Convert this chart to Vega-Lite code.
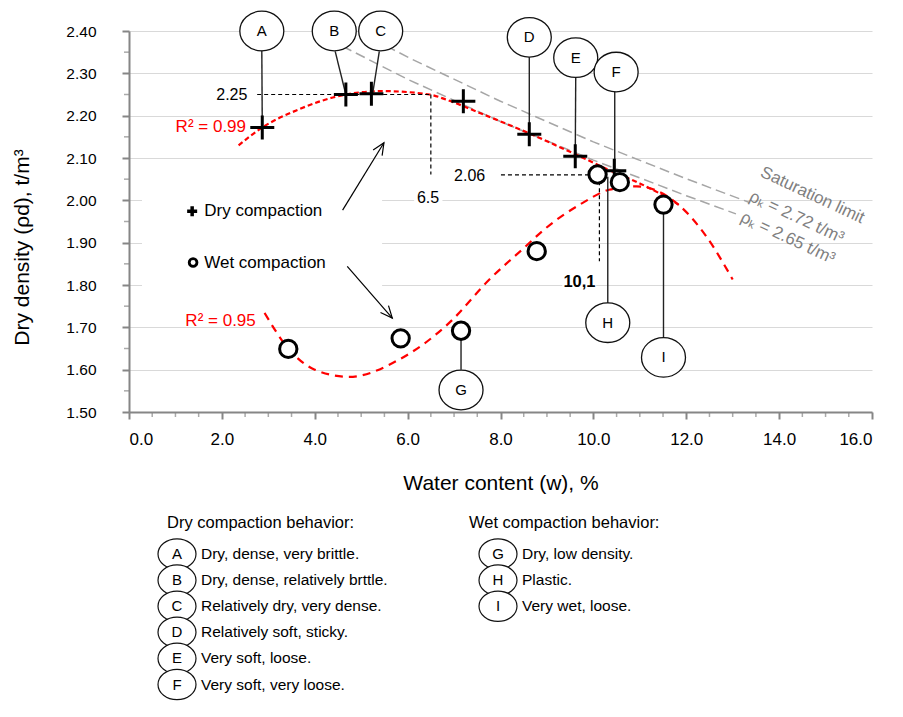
{
  "$schema": "https://vega.github.io/schema/vega-lite/v6.json",
  "background": "white",
  "padding": {"left": 11, "top": 8, "right": 5, "bottom": 5},
  "spacing": 8,
  "config": {
    "font": "Liberation Sans",
    "view": {"stroke": null},
    "text": {"font": "Liberation Sans"}
  },
  "datasets": {
    "dry": [
      {"x": 2.87, "y": 2.172}, {"x": 4.67, "y": 2.25}, {"x": 5.22, "y": 2.252}, {"x": 7.2, "y": 2.234},
      {"x": 8.62, "y": 2.156}, {"x": 9.61, "y": 2.104}, {"x": 10.45, "y": 2.07}
    ],
    "wet": [
      {"x": 3.43, "y": 1.649}, {"x": 5.85, "y": 1.674}, {"x": 7.15, "y": 1.692}, {"x": 8.78, "y": 1.88},
      {"x": 10.09, "y": 2.061}, {"x": 10.57, "y": 2.043}, {"x": 11.51, "y": 1.99}
    ],
    "dryfit": [
      {"x": 2.36, "y": 2.13}, {"x": 2.87, "y": 2.172}, {"x": 3.66, "y": 2.215}, {"x": 4.67, "y": 2.25},
      {"x": 5.46, "y": 2.258}, {"x": 6.47, "y": 2.25}, {"x": 6.83, "y": 2.238}, {"x": 7.54, "y": 2.207},
      {"x": 8.62, "y": 2.158}, {"x": 9.55, "y": 2.112}, {"x": 10.41, "y": 2.068}, {"x": 11.0, "y": 2.04},
      {"x": 11.53, "y": 2.01}, {"x": 11.89, "y": 1.986}
    ],
    "wetfit": [
      {"x": 2.92, "y": 1.734}, {"x": 3.43, "y": 1.65}, {"x": 4.0, "y": 1.6}, {"x": 4.74, "y": 1.583},
      {"x": 5.82, "y": 1.624}, {"x": 6.9, "y": 1.711}, {"x": 7.76, "y": 1.813}, {"x": 8.55, "y": 1.892},
      {"x": 8.94, "y": 1.931}, {"x": 9.77, "y": 1.994}, {"x": 10.34, "y": 2.025}, {"x": 10.93, "y": 2.033},
      {"x": 11.87, "y": 1.986}, {"x": 12.43, "y": 1.915}, {"x": 13.0, "y": 1.813}
    ],
    "sat": [
      {"s": "2.72", "x": 4.96, "y": 2.397}, {"s": "2.72", "x": 6.1, "y": 2.333}, {"s": "2.72", "x": 8.0, "y": 2.234},
      {"s": "2.72", "x": 10.0, "y": 2.138}, {"s": "2.72", "x": 12.0, "y": 2.051}, {"s": "2.72", "x": 13.36, "y": 1.995},
      {"s": "2.65", "x": 4.02, "y": 2.396}, {"s": "2.65", "x": 6.0, "y": 2.286}, {"s": "2.65", "x": 8.0, "y": 2.186},
      {"s": "2.65", "x": 10.0, "y": 2.095}, {"s": "2.65", "x": 12.0, "y": 2.011}, {"s": "2.65", "x": 13.07, "y": 1.968}
    ],
    "bg": [
      {"x": 0.28, "x2": 5.45, "y": 1.75, "y2": 2.02},
      {"x": 6.14, "x2": 6.75, "y": 1.975, "y2": 2.025},
      {"x": 9.33, "x2": 10.06, "y": 1.78, "y2": 1.83}
    ],
    "guides": [
      {"x": 2.76, "y": 2.25, "x2": 6.5, "y2": 2.25},
      {"x": 6.5, "y": 2.25, "x2": 6.5, "y2": 2.061},
      {"x": 8.01, "y": 2.06, "x2": 10.0, "y2": 2.06},
      {"x": 10.13, "y": 2.045, "x2": 10.13, "y2": 1.856}
    ],
    "connectors": [
      {"x": 2.86, "y": 2.355, "x2": 2.87, "y2": 2.172},
      {"x": 4.44, "y": 2.352, "x2": 4.67, "y2": 2.25},
      {"x": 5.39, "y": 2.352, "x2": 5.25, "y2": 2.254},
      {"x": 8.62, "y": 2.34, "x2": 8.62, "y2": 2.156},
      {"x": 9.62, "y": 2.29, "x2": 9.61, "y2": 2.104},
      {"x": 10.46, "y": 2.257, "x2": 10.46, "y2": 2.07},
      {"x": 7.15, "y": 1.6, "x2": 7.15, "y2": 1.692},
      {"x": 10.31, "y": 1.711, "x2": 10.31, "y2": 2.056},
      {"x": 11.51, "y": 1.629, "x2": 11.51, "y2": 1.99}
    ],
    "arrows": [
      {"x": 4.6, "y": 1.977, "x2": 5.49, "y2": 2.136},
      {"x": 4.7, "y": 1.844, "x2": 5.67, "y2": 1.722}
    ],
    "heads": [
      {"x": 5.49, "y": 2.136, "angle": 32},
      {"x": 5.67, "y": 1.722, "angle": 139}
    ],
    "balloons": [
      {"letter": "A", "x": 2.86, "y": 2.4}, {"letter": "B", "x": 4.42, "y": 2.4}, {"letter": "C", "x": 5.42, "y": 2.4},
      {"letter": "D", "x": 8.62, "y": 2.385}, {"letter": "E", "x": 9.62, "y": 2.337}, {"letter": "F", "x": 10.49, "y": 2.303},
      {"letter": "G", "x": 7.15, "y": 1.552}, {"letter": "H", "x": 10.31, "y": 1.711}, {"letter": "I", "x": 11.51, "y": 1.629}
    ],
    "redtext": [
      {"x": 2.52, "y": 2.174, "t": "R² = 0.99"},
      {"x": 2.73, "y": 1.716, "t": "R² = 0.95"}
    ],
    "righttext": [
      {"x": 2.55, "y": 2.25, "t": "2.25"},
      {"x": 7.67, "y": 2.058, "t": "2.06"}
    ],
    "centertext": [
      {"x": 6.44, "y": 2.005, "t": "6.5"}
    ],
    "boldtext": [
      {"x": 9.7, "y": 1.807, "t": "10,1"}
    ],
    "keytext": [
      {"x": 1.62, "y": 1.974, "t": "Dry compaction"},
      {"x": 1.62, "y": 1.853, "t": "Wet compaction"}
    ],
    "keycross": [{"x": 1.36, "y": 1.974}],
    "keycircle": [{"x": 1.38, "y": 1.853}],
    "sattext": [
      {"x": 13.62, "y": 2.068, "t": "Saturation limit"},
      {"x": 13.38, "y": 2.011, "t": "ρₖ = 2.72 t/m³"},
      {"x": 13.19, "y": 1.962, "t": "ρₖ = 2.65 t/m³"}
    ],
    "minorx": [
      {"x": 0.5, "y": 1.5}, {"x": 1.0, "y": 1.5}, {"x": 1.5, "y": 1.5}, {"x": 2.5, "y": 1.5}, {"x": 3.0, "y": 1.5},
      {"x": 3.5, "y": 1.5}, {"x": 4.5, "y": 1.5}, {"x": 5.0, "y": 1.5}, {"x": 5.5, "y": 1.5}, {"x": 6.5, "y": 1.5},
      {"x": 7.0, "y": 1.5}, {"x": 7.5, "y": 1.5}, {"x": 8.5, "y": 1.5}, {"x": 9.0, "y": 1.5}, {"x": 9.5, "y": 1.5},
      {"x": 10.5, "y": 1.5}, {"x": 11.0, "y": 1.5}, {"x": 11.5, "y": 1.5}, {"x": 12.5, "y": 1.5}, {"x": 13.0, "y": 1.5},
      {"x": 13.5, "y": 1.5}, {"x": 14.5, "y": 1.5}, {"x": 15.0, "y": 1.5}, {"x": 15.5, "y": 1.5}
    ],
    "minory": [
      {"x": 0, "y": 1.55}, {"x": 0, "y": 1.65}, {"x": 0, "y": 1.75}, {"x": 0, "y": 1.85}, {"x": 0, "y": 1.95},
      {"x": 0, "y": 2.05}, {"x": 0, "y": 2.15}, {"x": 0, "y": 2.25}, {"x": 0, "y": 2.35}
    ],
    "legend": [
      {"col": 0, "row": 0, "letter": "", "label": "Dry compaction behavior:"},
      {"col": 1, "row": 0, "letter": "", "label": "Wet compaction behavior:"},
      {"col": 0, "row": 1, "letter": "A", "label": "Dry, dense, very brittle."},
      {"col": 0, "row": 2, "letter": "B", "label": "Dry, dense, relatively brttle."},
      {"col": 0, "row": 3, "letter": "C", "label": "Relatively dry, very dense."},
      {"col": 0, "row": 4, "letter": "D", "label": "\u00a0Relatively soft, sticky."},
      {"col": 0, "row": 5, "letter": "E", "label": "Very soft, loose."},
      {"col": 0, "row": 6, "letter": "F", "label": "Very soft, very loose."},
      {"col": 1, "row": 1, "letter": "G", "label": "Dry, low density."},
      {"col": 1, "row": 2, "letter": "H", "label": "Plastic."},
      {"col": 1, "row": 3, "letter": "I", "label": "Very wet, loose."}
    ]
  },
  "vconcat": [
    {
      "width": 743,
      "height": 381,
      "encoding": {
        "x": {
          "field": "x", "type": "quantitative",
          "scale": {"domain": [0, 16], "nice": false, "zero": false},
          "axis": {
            "title": "Water content (w), %",
            "values": [0, 2, 4, 6, 8, 10, 12, 14, 16],
            "format": ".1f",
            "grid": false,
            "tickSize": 7, "tickWidth": 2, "tickColor": "#868686",
            "domainColor": "#868686", "domainWidth": 2,
            "labelFont": "Liberation Sans", "labelFontSize": 17, "labelColor": "black", "labelPadding": 12,
            "titleFont": "Liberation Sans", "titleFontSize": 21, "titleFontWeight": "normal", "titleColor": "black", "titlePadding": 25
          }
        },
        "y": {
          "field": "y", "type": "quantitative",
          "scale": {"domain": [1.5, 2.4], "nice": false, "zero": false},
          "axis": {
            "title": "Dry density (ρd), t/m³",
            "values": [1.5, 1.6, 1.7, 1.8, 1.9, 2.0, 2.1, 2.2, 2.3, 2.4],
            "format": ".2f",
            "grid": true, "gridColor": "#d9d9d9", "gridWidth": 1.2,
            "tickSize": 7, "tickWidth": 2, "tickColor": "#868686",
            "domainColor": "#868686", "domainWidth": 2,
            "labelFont": "Liberation Sans", "labelFontSize": 15.5, "labelColor": "black", "labelPadding": 26,
            "titleFont": "Liberation Sans", "titleFontSize": 21, "titleFontWeight": "normal", "titleColor": "black", "titlePadding": 33,
            "titleY": 216
          }
        }
      },
      "layer": [
        {"data": {"name": "bg"}, "mark": {"type": "rect", "color": "white"},
         "encoding": {"x2": {"field": "x2"}, "y2": {"field": "y2"}}},
        {"data": {"name": "minorx"}, "mark": {"type": "tick", "orient": "vertical", "size": 5, "thickness": 1.5, "color": "#868686", "yOffset": 2.5}},
        {"data": {"name": "minory"}, "mark": {"type": "tick", "orient": "horizontal", "size": 5, "thickness": 1.5, "color": "#868686", "xOffset": -2.5}},
        {"data": {"name": "sat"}, "mark": {"type": "line", "color": "#a6a6a6", "strokeWidth": 1.5, "strokeDash": [10, 5]},
         "encoding": {"detail": {"field": "s"}}},
        {"data": {"name": "dryfit"}, "mark": {"type": "line", "color": "#ff0000", "strokeWidth": 2.2, "strokeDash": [5, 3], "interpolate": "monotone"}},
        {"data": {"name": "wetfit"}, "mark": {"type": "line", "color": "#ff0000", "strokeWidth": 2.2, "strokeDash": [8, 6], "interpolate": "monotone"}},
        {"data": {"name": "guides"}, "mark": {"type": "rule", "color": "black", "strokeWidth": 1.2, "strokeDash": [4, 3]},
         "encoding": {"x2": {"field": "x2"}, "y2": {"field": "y2"}}},
        {"data": {"name": "connectors"}, "mark": {"type": "rule", "color": "#222222", "strokeWidth": 1.4},
         "encoding": {"x2": {"field": "x2"}, "y2": {"field": "y2"}}},
        {"data": {"name": "arrows"}, "mark": {"type": "rule", "color": "black", "strokeWidth": 1.2},
         "encoding": {"x2": {"field": "x2"}, "y2": {"field": "y2"}}},
        {"data": {"name": "heads"}, "mark": {"type": "point", "shape": "M-0.4,0.9L0,0L0.4,0.9", "size": 700, "filled": false, "stroke": "black", "strokeWidth": 1.2, "opacity": 1},
         "encoding": {"angle": {"field": "angle", "type": "quantitative", "scale": null}}},
        {"data": {"name": "dry"}, "mark": {"type": "point", "shape": "M-1,0L1,0M0,-1L0,1", "size": 576, "filled": false, "stroke": "black", "strokeWidth": 3, "opacity": 1}},
        {"data": {"name": "wet"}, "mark": {"type": "point", "shape": "circle", "size": 300, "filled": true, "fill": "white", "stroke": "black", "strokeWidth": 3, "opacity": 1}},
        {"data": {"name": "balloons"}, "mark": {"type": "point", "shape": "M-1,0A1,0.9,0,1,0,1,0A1,0.9,0,1,0,-1,0Z", "size": 1936, "filled": true, "fill": "white", "stroke": "#111111", "strokeWidth": 1.3, "opacity": 1}},
        {"data": {"name": "balloons"}, "mark": {"type": "text", "fontSize": 15, "color": "black", "align": "center", "baseline": "middle"},
         "encoding": {"text": {"field": "letter"}}},
        {"data": {"name": "redtext"}, "mark": {"type": "text", "fontSize": 17, "color": "#ff0000", "align": "right", "baseline": "middle"},
         "encoding": {"text": {"field": "t"}}},
        {"data": {"name": "righttext"}, "mark": {"type": "text", "fontSize": 16, "color": "black", "align": "right", "baseline": "middle"},
         "encoding": {"text": {"field": "t"}}},
        {"data": {"name": "centertext"}, "mark": {"type": "text", "fontSize": 16, "color": "black", "align": "center", "baseline": "middle"},
         "encoding": {"text": {"field": "t"}}},
        {"data": {"name": "boldtext"}, "mark": {"type": "text", "fontSize": 16.5, "fontWeight": "bold", "color": "black", "align": "center", "baseline": "middle"},
         "encoding": {"text": {"field": "t"}}},
        {"data": {"name": "keytext"}, "mark": {"type": "text", "fontSize": 17, "color": "black", "align": "left", "baseline": "middle"},
         "encoding": {"text": {"field": "t"}}},
        {"data": {"name": "keycross"}, "mark": {"type": "point", "shape": "M-1,0L1,0M0,-1L0,1", "size": 100, "filled": false, "stroke": "black", "strokeWidth": 3.5, "opacity": 1}},
        {"data": {"name": "keycircle"}, "mark": {"type": "point", "shape": "circle", "size": 60, "filled": true, "fill": "white", "stroke": "black", "strokeWidth": 2.8, "opacity": 1}},
        {"data": {"name": "sattext"}, "mark": {"type": "text", "fontSize": 17, "color": "#808080", "align": "left", "baseline": "middle", "angle": 25},
         "encoding": {"text": {"field": "t"}}}
      ]
    },
    {
      "width": 743,
      "height": 190,
      "data": {"name": "legend"},
      "encoding": {
        "x": {"field": "col", "type": "quantitative", "scale": {"domain": [0, 1], "range": [48, 369]}, "axis": null},
        "y": {"field": "row", "type": "quantitative", "scale": {"domain": [0, 6], "range": [27, 183.5]}, "axis": null}
      },
      "layer": [
        {"transform": [{"filter": "datum.row == 0 && datum.col == 0"}],
         "mark": {"type": "text", "fontSize": 16.5, "color": "black", "align": "left", "baseline": "middle", "dy": -5, "dx": -10},
         "encoding": {"text": {"field": "label"}}},
        {"transform": [{"filter": "datum.row == 0 && datum.col == 1"}],
         "mark": {"type": "text", "fontSize": 16.5, "color": "black", "align": "left", "baseline": "middle", "dy": -5, "dx": -29},
         "encoding": {"text": {"field": "label"}}},
        {"transform": [{"filter": "datum.row > 0"}],
         "mark": {"type": "point", "shape": "M-1,0A1,0.8,0,1,0,1,0A1,0.8,0,1,0,-1,0Z", "size": 1444, "filled": true, "fill": "white", "stroke": "#111111", "strokeWidth": 1.2, "opacity": 1}},
        {"transform": [{"filter": "datum.row > 0"}],
         "mark": {"type": "text", "fontSize": 15, "color": "black", "align": "center", "baseline": "middle"},
         "encoding": {"text": {"field": "letter"}}},
        {"transform": [{"filter": "datum.row > 0"}],
         "mark": {"type": "text", "fontSize": 15.5, "color": "black", "align": "left", "baseline": "middle", "dx": 24},
         "encoding": {"text": {"field": "label"}}}
      ]
    }
  ]
}
